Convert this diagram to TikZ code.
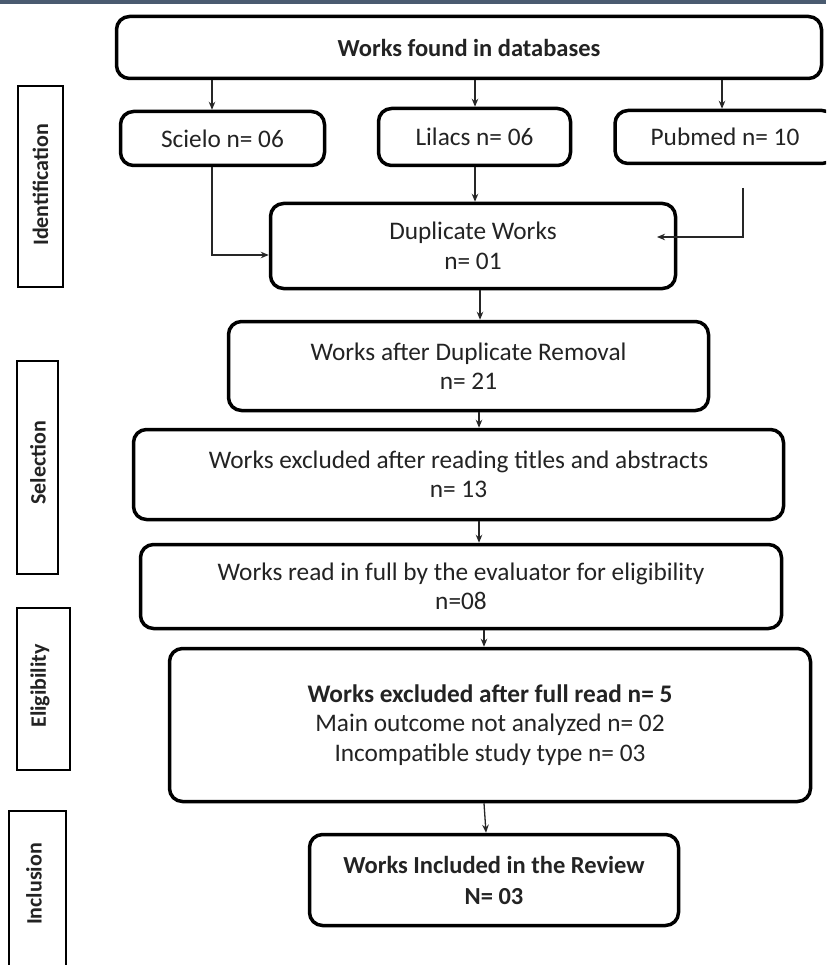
\documentclass[tikz,border=0pt]{standalone}
\usepackage{fontspec}
\setmainfont{Carlito}
\usetikzlibrary{arrows.meta,calc}
\definecolor{barblue}{RGB}{74,91,112}
\definecolor{txt}{RGB}{35,35,35}
\begin{document}
\begin{tikzpicture}[x=1pt,y=-1pt,
  box/.style={draw=black,line width=3.5pt,rounded corners=13pt,inner sep=0pt,align=center,text=txt,font=\fontsize{25.3}{29.5}\selectfont},
  side/.style={draw=black,line width=1.8pt,inner sep=0pt},
  sidelabel/.style={rotate=90,inner sep=0pt,text=txt,font=\fontsize{22}{26}\selectfont\bfseries},
  arr/.style={draw=black!85,line width=1.3pt,-{Stealth[length=8pt,width=6.5pt]}}]
\clip (0,0) rectangle (826,965);
\fill[white] (0,0) rectangle (826,965);
\fill[barblue] (0,0) rectangle (826,4);

% main boxes
\node[box,font=\fontsize{24.5}{29.5}\selectfont\bfseries,minimum width=705pt,minimum height=62pt] (top) at (469,47.5) {Works found in databases};
\node[box,minimum width=204pt,minimum height=54pt] (scielo) at (222.5,138.5) {Scielo n= 06};
\node[box,minimum width=192pt,minimum height=57pt] (lilacs) at (474.5,137) {Lilacs n= 06};
\node[box,minimum width=220pt,minimum height=53pt] (pubmed) at (725,137) {Pubmed n= 10};
\node[box,minimum width=405pt,minimum height=85pt] (dup) at (473,246) {Duplicate Works\\n= 01};
\node[box,minimum width=480pt,minimum height=89pt] (afterdup) at (468.5,366) {Works after Duplicate Removal\\n= 21};
\node[box,minimum width=650pt,minimum height=90pt] (excltitles) at (458.5,474.5) {Works excluded after reading titles and abstracts\\n= 13};
\node[box,minimum width=641pt,minimum height=84pt] (readfull) at (461,586.5) {Works read in full by the evaluator for eligibility\\n=08};
\node[box,minimum width=641pt,minimum height=153pt] (exclfull) at (490,725) {\textbf{Works excluded after full read n= 5}\\Main outcome not analyzed n= 02\\Incompatible study type n= 03};
\node[box,font=\fontsize{24.5}{31}\selectfont\bfseries,minimum width=369pt,minimum height=91pt] (included) at (494,880) {Works Included in the Review\\N= 03};

% side boxes
\node[side,minimum width=45pt,minimum height=201pt] (ident) at (40.5,186.5) {};
\node[sidelabel] (identl) at (40.5,185) {Identification};
\node[side,minimum width=41pt,minimum height=213pt] (select) at (37.5,467.5) {};
\node[sidelabel] (selectl) at (38,463) {Selection};
\node[side,minimum width=53pt,minimum height=162pt] (elig) at (43.5,689) {};
\node[sidelabel] (eligl) at (40,686) {Eligibility};
\node[side,minimum width=57pt,minimum height=164pt] (incl) at (37.5,893) {};
\node[sidelabel] (incll) at (34,884) {Inclusion};

% helper coordinates
\coordinate (xs) at (212,0);
\coordinate (xl) at (475,0);
\coordinate (xp) at (722,0);
\coordinate (xd) at (480,0);
\coordinate (xe) at (479,0);
\coordinate (xr) at (484,0);
\coordinate (xi) at (486,0);
\coordinate (ys) at (0,255);
\coordinate (pstart) at (743,188);
\coordinate (pend) at (657,237);

% connectors
\draw[arr] (top.south -| xs) -- (scielo.north -| xs);
\draw[arr] (top.south -| xl) -- (lilacs.north -| xl);
\draw[arr] (top.south -| xp) -- (pubmed.north -| xp);
\draw[arr] (lilacs.south -| xl) -- (dup.north -| xl);
\draw[arr] (scielo.south -| xs) |- (dup.west |- ys);
\draw[arr] (pstart) |- (pend);
\draw[arr] (dup.south -| xd) -- (afterdup.north -| xd);
\draw[arr] (afterdup.south -| xe) -- (excltitles.north -| xe);
\draw[arr] (excltitles.south -| xe) -- (readfull.north -| xe);
\draw[arr] (readfull.south -| xr) -- (exclfull.north -| xr);
\draw[arr] (exclfull.south -| xr) -- (included.north -| xi);
\end{tikzpicture}
\end{document}
